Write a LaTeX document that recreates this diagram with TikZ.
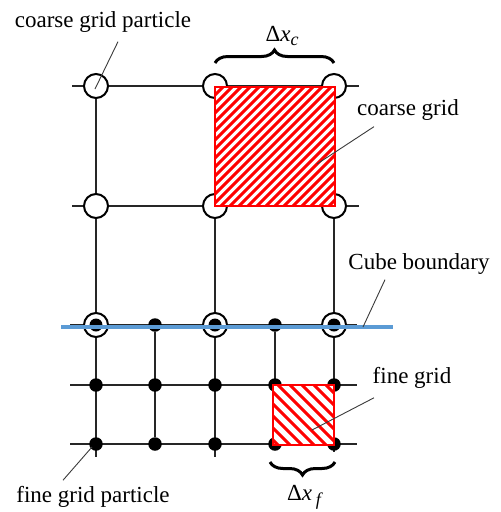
\documentclass[tikz,border=0pt]{standalone}
\usepackage{fontspec}
\setmainfont{Liberation Serif}
\usepackage{xcolor}
\usepackage{tikz}
\usetikzlibrary{positioning,backgrounds,decorations.pathreplacing,calc}
\definecolor{cHatch}{HTML}{FF0000}
\definecolor{cBound}{HTML}{5B9BD5}
\definecolor{lead}{HTML}{3A3A3A}

\begin{document}
\begin{tikzpicture}[
    x=1pt, y=-1pt,
    cpart/.style={circle, draw=black, fill=white, line width=2pt,
                  minimum size=24pt, inner sep=0pt},
    fpart/.style={circle, fill=black, minimum size=13.5pt, inner sep=0pt},
    bpart/.style={circle, draw=black, fill=white, line width=2pt,
                  minimum size=24pt, inner sep=0pt,
                  path picture={\fill[black] (path picture bounding box.center) circle (6.5pt);}},
    grd/.style={line width=1.5pt, black!85},
    lbl/.style={font=\fontsize{23}{27}\selectfont, inner sep=1pt},
    ldr/.style={line width=0.9pt, lead},
    cell/.style={draw=cHatch, fill=white, line width=2.2pt},
    hatch/.style={cHatch, line width=3pt},
    brc/.style={decorate, decoration={brace, amplitude=13pt}, line width=3pt},
    bnd/.style={cBound, line width=3.2pt},
  ]
    \useasboundingbox (0,0) rectangle (501,512);

    % coarse particles -- rows 1,2 and the boundary row 3
    \node[cpart] (c1a) at (96,86)  {};
    \node[cpart] (c1b) at (215,86) {};
    \node[cpart] (c1c) at (334,86) {};
    \node[cpart] (c2a) at (96,206)  {};
    \node[cpart] (c2b) at (215,206) {};
    \node[cpart] (c2c) at (334,206) {};
    \node[bpart] (c3a) at (96,325)  {};
    \node[bpart] (c3c) at (215,325) {};
    \node[bpart] (c3e) at (334,325) {};

    % fine particles -- rows 3,4,5
    \node[fpart] (f3b) at (155,325) {};
    \node[fpart] (f3d) at (275,325) {};
    \foreach \col/\xx in {a/96, b/155, c/215, d/275, e/334} {
      \node[fpart] (f4\col) at (\xx,385) {};
      \node[fpart] (f5\col) at (\xx,444) {};
    }

    % free ends of the grid lines
    \coordinate (r1L) at (72,86);   \coordinate (r1R) at (359,86);
    \coordinate (r2L) at (72,206);  \coordinate (r2R) at (359,206);
    \coordinate (r3L) at (70,325);  \coordinate (r3R) at (357,325);
    \coordinate (r4L) at (70,385);  \coordinate (r4R) at (357,385);
    \coordinate (r5L) at (70,444);  \coordinate (r5R) at (357,444);
    \coordinate (kaB) at (96,457);  \coordinate (kcB) at (215,457);
    \coordinate (keB) at (334,452);

    \begin{scope}[on background layer]
      \draw[grd] (r1L) -- (r1R);
      \draw[grd] (r2L) -- (r2R);
      \draw[grd] (r3L) -- (r3R);
      \draw[grd] (r4L) -- (r4R);
      \draw[grd] (r5L) -- (r5R);
      \draw[grd, line width=2.2pt] (f5b) -- (f5e);
      \draw[grd] (c1a.center) -- (kaB);
      \draw[grd] (c1b.center) -- (kcB);
      \draw[grd] (c1c.center) -- (keB);
      \draw[grd] (f3b) -- (f5b);
      \draw[grd] (f3d) -- (f5d);
    \end{scope}

    % coarse cell, hatched north east
    \coordinate (cgA) at (215,87);  \coordinate (cgB) at (335,206);
    \fill[white] (cgA) rectangle (cgB);
    \begin{scope}
      \clip (cgA) rectangle (cgB);
      \foreach \s in {-126,-117,...,243}
        \draw[hatch] (215+\s,212) -- ++(130,-130);
    \end{scope}
    \draw[cell, fill=none] (cgA) rectangle (cgB);

    % fine cell, hatched north west
    \coordinate (fgA) at (273,385);  \coordinate (fgB) at (334,445);
    \fill[white] (fgA) rectangle (fgB);
    \begin{scope}
      \clip (fgA) rectangle (fgB);
      \foreach \s in {-72,-60,...,72}
        \draw[hatch] (273+\s,380) -- ++(70,70);
    \end{scope}
    \draw[cell, fill=none] (fgA) rectangle (fgB);

    % cube boundary
    \coordinate (bndL) at (61,327);  \coordinate (bndR) at (393,327);
    \coordinate (bndP) at (363,327);
    \draw[bnd] (bndL) -- (bndR);

    % spacing braces
    \draw[brc] ([yshift=23pt]c1b.center) -- ([yshift=23pt]c1c.center);
    \draw[brc] ([xshift=1pt,yshift=-18pt]f5e.center) -- ([xshift=-5pt,yshift=-18pt]f5d.center);
    \node[lbl] (dxc) at (282,36) {Δ\textit{x}\raisebox{-0.4ex}{\fontsize{18}{20}\selectfont\textit{c}}};
    \node[lbl] (dxf) at (305,497) {Δ\textit{x}\,\raisebox{-0.45ex}{\fontsize{18}{20}\selectfont\textit{f}}};

    % labels and leaders
    \node[lbl] (lcgp) at (103,22)  {coarse grid particle};
    \node[lbl] (lcg)  at (408,110) {coarse grid};
    \node[lbl] (lcb)  at (419,264) {Cube boundary};
    \node[lbl] (lfg)  at (412,378) {fine grid};
    \node[lbl] (lfgp) at (93,497)  {fine grid particle};
    \coordinate (cgP) at (317,164);
    \coordinate (fgP) at (312,430);
    \draw[ldr] (lcgp.south -| 118,0) ++(0,8) -- ($(c1a.center)+(-1,3)$);
    \draw[ldr] (lcg.south -| 374,0) ++(0,5) -- (cgP);
    \draw[ldr] (lcb.south -| 385,0) ++(0,4) -- (bndP);
    \draw[ldr] (lfg.south -| 374,0) ++(0,8) -- (fgP);
    \draw[ldr] (lfgp.north -| 63,0) ++(0,-5) -- ($(f5a.center)+(-4,3)$);
\end{tikzpicture}
\end{document}
